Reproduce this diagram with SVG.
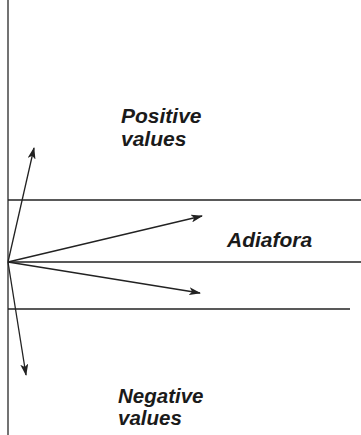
<svg xmlns="http://www.w3.org/2000/svg" width="361" height="435" viewBox="0 0 361 435">
<style>
.ax{stroke:#444;stroke-width:1.5;fill:none}
.ln{stroke:#222;stroke-width:1.5;fill:none}
.ar{stroke:#222;stroke-width:1.3;fill:none;marker-end:url(#ah)}
.lb{font-family:"Liberation Sans",Arial,sans-serif;font-weight:bold;font-style:italic;font-size:21px;fill:#1a1a1a}
.sm{font-size:20.5px}
</style>
<defs>
<marker id="ah" viewBox="0 0 12 8" refX="11" refY="4" markerWidth="12" markerHeight="8" markerUnits="userSpaceOnUse" orient="auto">
<path d="M0,0 L12,4 L0,8 L3,4 Z" fill="#222"/>
</marker>
</defs>
<g id="axes">
<line class="ax" x1="8" y1="0" x2="8" y2="435"/>
<line class="ln" x1="8" y1="200" x2="361" y2="200"/>
<line class="ln" x1="8" y1="262" x2="361" y2="262"/>
<line class="ln" x1="8" y1="309" x2="350" y2="309"/>
</g>
<g id="connectors">
<line class="ar" x1="8" y1="262" x2="34" y2="148"/>
<line class="ar" x1="8" y1="262" x2="202" y2="216"/>
<line class="ar" x1="8" y1="262" x2="200" y2="293"/>
<line class="ar" x1="8" y1="262" x2="26" y2="375"/>
</g>
<g id="positive"><text class="lb" x="121" y="123">Positive</text><text class="lb" x="121" y="146">values</text></g>
<g id="adiafora"><text class="lb" x="227" y="247">Adiafora</text></g>
<g id="negative"><text class="lb sm" x="118" y="403">Negative</text><text class="lb sm" x="118" y="425">values</text></g>
</svg>
